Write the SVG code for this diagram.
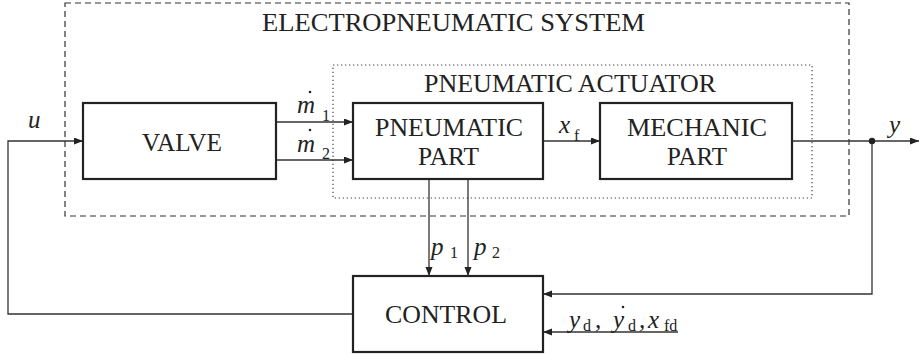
<svg xmlns="http://www.w3.org/2000/svg" width="919" height="358" viewBox="0 0 919 358" font-family="'Times New Roman', 'Liberation Serif', Tinos, 'DejaVu Serif', serif">
<style>
.box{fill:#fff;stroke:#222;stroke-width:2.2}
.con{fill:none;stroke:#333;stroke-width:1.3}
text{font-family:'Times New Roman','Liberation Serif',Tinos,'DejaVu Serif',serif;fill:#222}
.big{font-size:26px}
.it{font-size:25px;font-style:italic}
.sub{font-size:16px}
</style>
<defs>
<marker id="ar" markerUnits="userSpaceOnUse" markerWidth="10" markerHeight="8" refX="9" refY="3.5" orient="auto">
<path d="M0,0 L9,3.5 L0,7 z" fill="#222"/>
</marker>
</defs>
<rect width="919" height="358" fill="#fff"/>
<g id="system-frame">
<rect x="65" y="3" width="784" height="213" fill="none" stroke="#333" stroke-width="1.2" stroke-dasharray="6,4"/>
<text class="big" x="262" y="31" textLength="383" lengthAdjust="spacingAndGlyphs">ELECTROPNEUMATIC SYSTEM</text>
</g>
<g id="actuator-frame">
<rect x="333" y="65" width="479" height="133" fill="none" stroke="#444" stroke-width="1.2" stroke-dasharray="1.3,2.7"/>
<text class="big" x="424" y="92" textLength="292" lengthAdjust="spacingAndGlyphs">PNEUMATIC ACTUATOR</text>
</g>
<g id="connectors">
<polyline class="con" points="353,314 8,314 8,141 83,141" marker-end="url(#ar)"/>
<line class="con" x1="276" y1="122" x2="353" y2="122" marker-end="url(#ar)"/>
<line class="con" x1="276" y1="160" x2="353" y2="160" marker-end="url(#ar)"/>
<line class="con" x1="543" y1="141" x2="600" y2="141" marker-end="url(#ar)"/>
<line class="con" x1="792" y1="141" x2="919" y2="141" marker-end="url(#ar)"/>
<polyline class="con" points="872,141 872,294 543,294" marker-end="url(#ar)"/>
<circle cx="872" cy="141" r="3.2" fill="#222"/>
<line class="con" x1="429" y1="179" x2="429" y2="276" marker-end="url(#ar)"/>
<line class="con" x1="468" y1="179" x2="468" y2="276" marker-end="url(#ar)"/>
<line class="con" x1="678" y1="332" x2="543" y2="332" marker-end="url(#ar)"/>
<text class="it" x="28" y="128">u</text>
<text class="it" x="297" y="113">m</text><text class="sub" x="322" y="121">1</text>
<circle cx="310" cy="92" r="1.3" fill="#222"/>
<text class="it" x="297" y="152">m</text><text class="sub" x="322" y="159">2</text>
<circle cx="310" cy="130" r="1.3" fill="#222"/>
<text class="it" x="559" y="133">x</text><text class="sub" x="574" y="141">f</text>
<text class="it" x="889" y="133">y</text>
<text class="it" x="431" y="255">p</text><text class="sub" x="450" y="258">1</text>
<text class="it" x="474" y="255">p</text><text class="sub" x="492" y="258">2</text>
<text class="it" x="569" y="328">y</text><text class="sub" x="583" y="331">d</text><text class="it" x="595" y="328">,</text>
<text class="it" x="613" y="328">y</text><circle cx="623" cy="307" r="1.3" fill="#222"/><text class="sub" x="628" y="331">d</text><text class="it" x="639" y="328">,</text>
<text class="it" x="648" y="328">x</text><text class="sub" x="664" y="331">fd</text>
</g>
<g id="valve">
<rect class="box" x="83" y="103" width="193" height="76"/>
<text class="big" x="142" y="151" textLength="80" lengthAdjust="spacingAndGlyphs">VALVE</text>
</g>
<g id="pneumatic-part">
<rect class="box" x="353" y="103" width="190" height="76"/>
<text class="big" x="375" y="136" textLength="148" lengthAdjust="spacingAndGlyphs">PNEUMATIC</text>
<text class="big" x="418" y="165" textLength="61" lengthAdjust="spacingAndGlyphs">PART</text>
</g>
<g id="mechanic-part">
<rect class="box" x="600" y="103" width="192" height="76"/>
<text class="big" x="627" y="136" textLength="140" lengthAdjust="spacingAndGlyphs">MECHANIC</text>
<text class="big" x="667" y="165" textLength="60" lengthAdjust="spacingAndGlyphs">PART</text>
</g>
<g id="control">
<rect class="box" x="353" y="276" width="190" height="76"/>
<text class="big" x="385" y="323" textLength="122" lengthAdjust="spacingAndGlyphs">CONTROL</text>
</g>
</svg>
